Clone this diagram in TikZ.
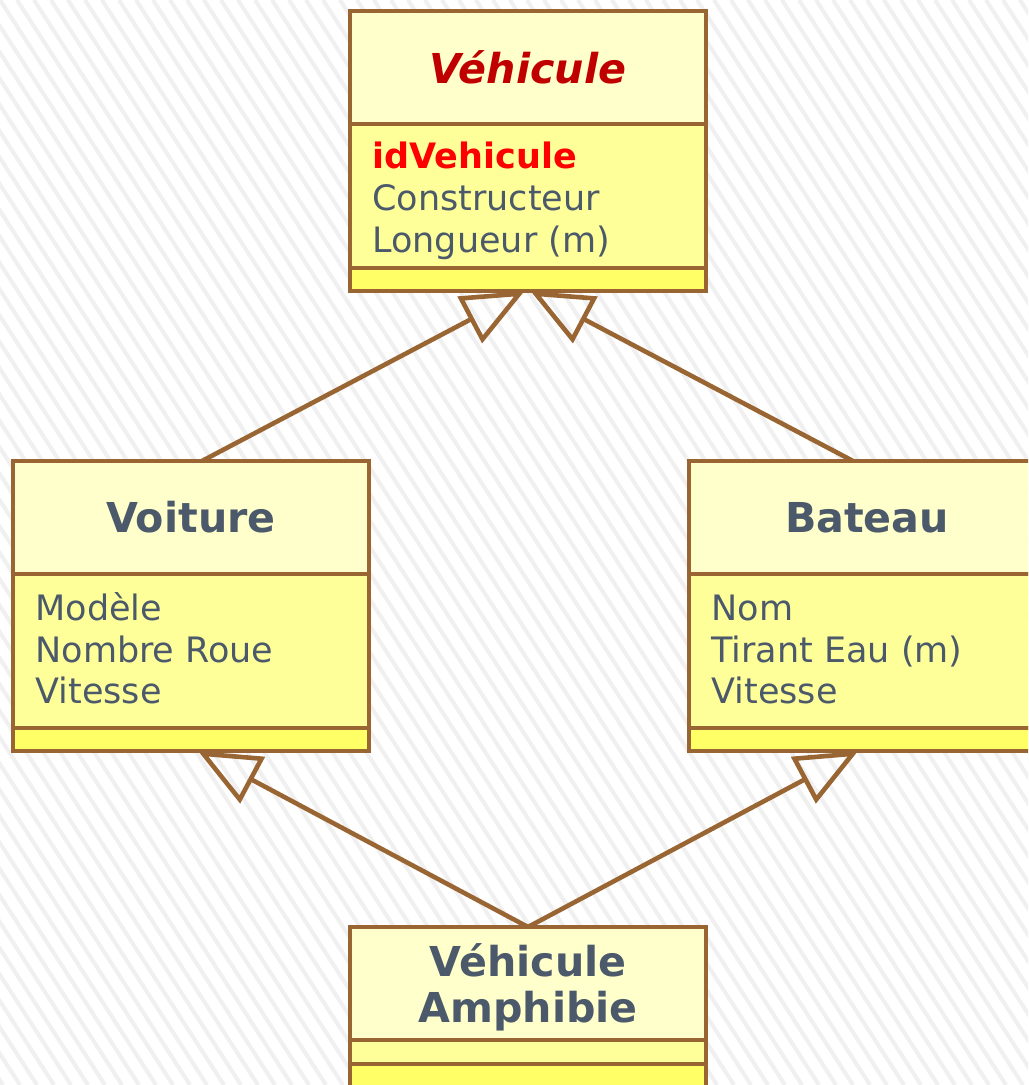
\documentclass[tikz,border=0pt]{standalone}
\usepackage{fontspec}
\setmainfont{DejaVu Sans}
\usetikzlibrary{arrows.meta,positioning}
\definecolor{umlborder}{HTML}{996633}
\definecolor{headfill}{HTML}{FFFFCC}
\definecolor{attrfill}{HTML}{FFFF99}
\definecolor{opfill}{HTML}{FFFF66}
\definecolor{umltext}{HTML}{4B596B}
\definecolor{abstractred}{HTML}{C00000}
\tikzset{%
	compart/.style  = {draw=umlborder, line width=1.6pt, rectangle, minimum width=178pt, inner sep=0pt, outer sep=0pt, anchor=north west},
	headbox/.style  = {compart, fill=headfill, minimum height=56.5pt},
	attrbox/.style  = {compart, fill=attrfill},
	opbox/.style    = {compart, fill=opfill, minimum height=11.5pt},
	classname/.style= {font=\fontsize{20.6}{23}\selectfont\bfseries, text=umltext, inner sep=0pt},
	attr/.style     = {font=\fontsize{17.5}{21}\selectfont, text=umltext, anchor=base west, inner sep=0pt},
	inherit/.style  = {draw=umlborder, line width=2.3pt, -{Triangle[open,length=31pt,width=26pt]}},
	stripe/.style   = {black!6, line width=2pt},
}

\begin{document}
\begin{tikzpicture}[x=0.5pt,y=-0.5pt]
	\useasboundingbox (0,0) rectangle (1028,1085);
	\begin{scope}
	\clip (0,0) rectangle (1028,1085);
	\fill[white] (0,0) rectangle (1028,1085);
	\foreach \i in {-44,...,62}
		\draw[stripe] (\i*17,0) -- ++(700,1085);

	% abstract class
	\node[headbox] (vehiculeHead) at (350,11) {};
	\node[attrbox, minimum height=72pt, below=0pt of vehiculeHead] (vehiculeAttr) {};
	\node[opbox, below=0pt of vehiculeAttr] (vehiculeOp) {};
	\node[classname, text=abstractred, font=\fontsize{20.6}{23}\selectfont\bfseries\itshape] (vehiculeName) at (vehiculeHead.center) {Véhicule};
	\node[attr, text=red, font=\fontsize{17.5}{21}\selectfont\bfseries] (vehiculeId) at (372,169) {idVehicule};
	\node[attr] (vehiculeCons) at (372,211) {Constructeur};
	\node[attr] (vehiculeLong) at (372,253) {Longueur (m)};

	% voiture
	\node[headbox] (voitureHead) at (13,461) {};
	\node[attrbox, minimum height=77pt, below=0pt of voitureHead] (voitureAttr) {};
	\node[opbox, below=0pt of voitureAttr] (voitureOp) {};
	\node[classname] (voitureName) at (voitureHead.center) {Voiture};
	\node[attr] (voitureModele) at (35,620) {Modèle};
	\node[attr] (voitureRoue) at (35,662) {Nombre Roue};
	\node[attr] (voitureVit) at (35,703) {Vitesse};

	% bateau
	\node[headbox] (bateauHead) at (689,461) {};
	\node[attrbox, minimum height=77pt, below=0pt of bateauHead] (bateauAttr) {};
	\node[opbox, below=0pt of bateauAttr] (bateauOp) {};
	\node[classname] (bateauName) at (bateauHead.center) {Bateau};
	\node[attr] (bateauNom) at (711,620) {Nom};
	\node[attr] (bateauTirant) at (711,662) {Tirant Eau (m)};
	\node[attr] (bateauVit) at (711,703) {Vitesse};

	% amphibie
	\node[headbox] (amphiHead) at (350,927) {};
	\node[attrbox, minimum height=12pt, below=0pt of amphiHead] (amphiAttr) {};
	\node[opbox, below=0pt of amphiAttr] (amphiOp) {};
	\node[classname, align=center, yshift=-2pt] (amphiName) at (amphiHead.center) {Véhicule\\Amphibie};

	% heritage
	\draw[inherit] ([xshift=5.5pt]voitureHead.north) -- ([xshift=-1.75pt]vehiculeOp.south);
	\draw[inherit] ([xshift=-7pt]bateauHead.north) -- ([xshift=1.25pt]vehiculeOp.south);
	\draw[inherit] (amphiHead.north) -- ([xshift=3.5pt]voitureOp.south);
	\draw[inherit] (amphiHead.north) -- ([xshift=-4.5pt]bateauOp.south);
	\end{scope}
\end{tikzpicture}
\end{document}
